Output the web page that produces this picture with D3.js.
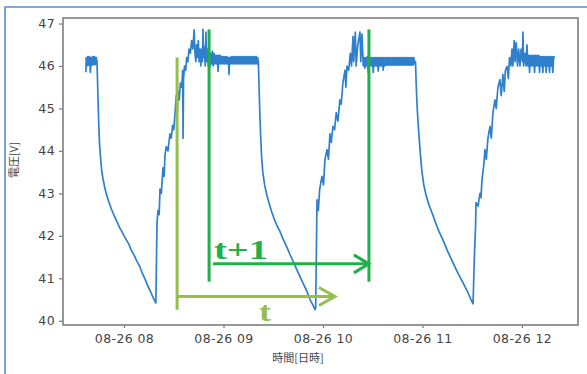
<!DOCTYPE html>
<html>
<head>
<meta charset="utf-8">
<script src="https://cdn.jsdelivr.net/npm/d3@7"></script>
<style>
body { margin: 0; background: #fff; }
</style>
</head>
<body>
<svg width="587" height="374"></svg>
<script>
// minutes after 07:00 on 08-26, voltage [V]
var startPlateau = [[37.0,45.85],[37.2,46.2],[37.7,46.0],[38.2,46.22],[38.7,46.02],[39.2,46.22],[39.7,45.85],[40.2,46.2],[40.7,46.02],[41.2,46.22],[41.7,46.03],[42.2,46.22],[42.7,46.03],[43.2,46.2],[43.7,46.1]]
var decay1 = [[44.2,45.4],[44.7,44.7],[45.2,44.2],[45.8,43.85],[46.5,43.55],[47.3,43.35],[48.3,43.15],[49.6,42.95],[51.0,42.78],[52.5,42.62],[54.0,42.48],[55.8,42.33],[57.5,42.18],[59.0,42.08],[60.0,42.0],[61.5,41.9],[63.0,41.8],[64.5,41.65],[66.0,41.55],[67.5,41.42],[69.6,41.27],[71.0,41.12],[72.5,41.0],[74.0,40.85],[75.2,40.75],[76.3,40.66],[77.5,40.55],[78.7,40.45]]
var rise1 = [[79.2,40.42],[79.6,41.5],[79.9,42.3],[80.5,42.6],[81.2,42.5],[81.7,43.1],[82.5,43.0],[83.5,43.6],[84.2,43.4],[84.7,43.9],[85.5,44.1],[86.5,44.0],[87.7,44.4],[88.5,44.3],[89.3,44.6],[90.0,44.5],[90.8,44.9],[91.5,45.3],[92.0,44.8],[92.6,45.4],[93.3,45.2],[94.0,45.6],[94.8,45.5],[95.4,45.9],[95.6,44.3],[95.9,45.7],[96.5,46.0],[97.2,45.9],[97.8,46.2],[98.5,46.1],[99.2,46.4],[100,46.3],[100.8,46.6],[101.5,46.4],[102.3,46.85],[102.8,46.3]]
var plateau1 = [[103.3,46.1],[103.8,46.5],[104.3,46.2],[104.8,46.6],[105.3,46.1],[105.8,46.4],[106.3,46.0],[106.8,46.4],[107.3,46.1],[107.6,46.86],[108.0,46.2],[108.5,46.45],[109.0,46.0],[109.4,46.8],[109.8,46.1],[110.3,46.4],[110.8,46.0],[111.3,46.3],[111.8,46.0],[112.3,46.3],[112.8,46.05],[113.3,46.35],[113.8,46.0],[114.3,46.3],[114.8,46.05],[115.3,46.25],[115.8,46.05],[116.3,46.25],[116.7,45.87],[117.1,46.25],[117.6,46.05],[118.1,46.25],[118.6,46.05],[119.1,46.22],[119.6,46.05],[120.1,46.22],[120.6,46.05],[121.1,46.22],[121.6,46.05],[122.1,46.22],[122.6,46.05],[123.0,46.2],[123.3,45.8],[123.7,46.2],[124.2,46.05],[124.7,46.22],[125.2,46.05],[125.7,46.22],[126.2,46.05],[126.7,46.22],[127.2,46.05],[127.7,46.22],[128.2,46.05],[128.7,46.22],[129.2,46.05],[129.7,46.22],[130.2,46.05],[130.7,46.22],[131.2,46.05],[131.7,46.22],[132.2,46.05],[132.7,46.22],[133.2,46.05],[133.7,46.22],[134.2,46.05],[134.7,46.22],[135.2,46.05],[135.7,46.22],[136.2,46.05],[136.7,46.22],[137.2,46.05],[137.7,46.22],[138.2,46.05],[138.7,46.22],[139.2,46.05],[139.7,46.22],[140.2,46.05],[140.6,46.2]]
var decay2 = [[141.0,46.1],[141.4,45.6],[141.9,44.9],[142.4,44.35],[143.0,43.85],[143.7,43.5],[144.8,43.2],[146.2,42.95],[147.7,42.74],[149.2,42.55],[151.0,42.35],[152.5,42.22],[154.1,42.1],[156.0,41.92],[158.0,41.75],[160.1,41.56],[162.0,41.4],[164.0,41.22],[166.1,41.04],[168.0,40.88],[170.0,40.72],[172.2,40.5],[173.8,40.38],[175.2,40.26]]
var rise2 = [[175.6,40.3],[176.0,41.6],[176.4,42.85],[177.2,42.6],[178.0,43.1],[179.4,43.4],[180.3,43.2],[181.2,43.8],[182.4,44.03],[183.3,43.8],[184.2,44.4],[185.0,44.2],[186.0,44.58],[187.0,44.5],[188.0,44.9],[189.0,44.7],[190.2,45.2],[191.0,45.1],[192.0,45.6],[193.3,45.9],[193.8,45.5],[194.5,46.0],[195.5,45.9],[196.5,46.3],[197.2,46.0],[198.1,46.7],[198.5,46.1],[199.5,46.8],[200.0,46.0],[201.0,46.5],[202.3,46.8],[202.8,46.1],[203.5,46.75],[204.3,46.0]]
var plateau2 = [[204.8,46.2],[205.3,45.95],[205.8,46.2],[206.3,46.0],[206.8,46.22],[207.3,45.85],[207.8,46.2],[208.3,46.0],[208.8,46.2],[209.3,46.0],[209.8,46.2],[210.3,45.85],[210.8,46.2],[211.3,46.0],[211.8,46.2],[212.3,46.0],[212.8,46.2],[213.3,45.88],[213.8,46.2],[214.3,46.0],[214.8,46.2],[215.3,46.0],[215.8,46.2],[216.3,45.9],[216.8,46.2],[217.3,46.0],[217.8,46.2],[218.3,46.02],[218.8,46.2],[219.3,46.02],[219.8,46.2],[220.3,46.02],[220.8,46.2],[221.3,46.02],[221.8,46.2],[222.3,46.02],[222.8,46.2],[223.3,46.02],[223.8,46.2],[224.3,46.02],[224.8,46.2],[225.3,46.02],[225.8,46.2],[226.3,46.02],[226.8,46.2],[227.3,46.02],[227.8,46.2],[228.3,46.02],[228.8,46.2],[229.3,46.02],[229.8,46.2],[230.3,46.02],[230.8,46.2],[231.3,46.02],[231.8,46.2],[232.3,46.02],[232.8,46.2],[233.3,46.02],[233.8,46.2],[234.3,46.02],[234.8,46.2],[235.3,46.05]]
var decay3 = [[235.8,46.1],[236.2,45.6],[236.7,45.1],[237.3,44.7],[238.0,44.3],[238.8,43.9],[239.7,43.5],[240.8,43.2],[242.2,42.95],[243.8,42.74],[245.7,42.55],[248.0,42.3],[250.0,42.1],[252.4,41.9],[255.0,41.65],[258.4,41.37],[261.0,41.15],[264.4,40.9],[267.0,40.7],[269.8,40.45]]
var rise3 = [[270.5,40.4],[271.3,41.5],[272.0,42.2],[272.3,42.78],[273.5,42.7],[274.7,43.0],[275.3,42.9],[275.9,43.33],[276.8,43.6],[277.7,44.03],[278.5,43.8],[279.5,44.3],[280.7,44.58],[281.5,44.3],[282.5,44.9],[283.7,45.2],[284.5,45.0],[285.5,45.5],[286.7,45.68],[287.5,45.3],[288.5,45.8],[289.3,45.4],[290.0,45.9],[291.0,45.99],[291.8,45.7],[292.5,46.2],[293.3,46.0],[294.0,46.4],[294.5,46.0],[295.3,46.6],[295.8,46.1],[296.5,46.55],[297.3,46.0],[298.0,46.4],[298.8,46.0],[299.5,46.4],[300.3,46.1],[300.6,46.8],[301.0,46.0],[301.8,46.3],[302.5,46.0],[303,46.5]]
var plateau3 = [[303.6,46.0],[304.1,46.25],[304.6,45.85],[305.1,46.25],[305.6,46.0],[306.1,46.25],[306.6,46.0],[307.1,46.25],[307.6,45.85],[308.1,46.25],[308.6,46.0],[309.1,46.25],[309.6,46.0],[310.1,46.25],[310.6,45.85],[311.1,46.22],[311.6,46.0],[312.1,46.22],[312.6,45.85],[313.1,46.22],[313.6,46.0],[314.1,46.22],[314.6,45.85],[315.1,46.22],[315.6,46.0],[316.1,46.22],[316.6,45.85],[317.1,46.22],[317.6,46.0],[318.1,46.22],[318.6,45.85],[319.1,46.22],[319.9,46.2]]

var hourTicks = [8, 9, 10, 11, 12]
var voltTicks = [40, 41, 42, 43, 44, 45, 46, 47]

// annotations: [minute, volts]
var tLine = {x: 92.0, y0: 46.2, y1: 40.26, arrowY: 40.57, arrowEnd: 187.2, label: "t", labelX: 145}
var t1Lines = {x0: 111.3, x1: 207.7, y0: 46.86, y1: 40.92, arrowY: 41.34, label: "t+1"}

var series = [].concat(startPlateau, decay1, rise1, plateau1, decay2, rise2, plateau2, decay3, rise3, plateau3)

function toDate(m) { return new Date(2023, 7, 26, 7, 0, m * 60) }

var xs = d3.scaleTime().domain([toDate(23.2), toDate(333.8)]).range([63, 578])
var ys = d3.scaleLinear().domain([39.9, 47.13]).range([325, 18])

var svg = d3.select("svg")

// outer frame of the pasted image
svg.append("path").attr("d", "M5,374 V7 H587")
  .attr("fill", "none").attr("stroke", "#5b8bd0").attr("stroke-width", 1.6)

var line = d3.line().x(d => xs(toDate(d[0]))).y(d => ys(d[1]))
svg.append("path").datum(series)
  .attr("d", line)
  .attr("fill", "none")
  .attr("stroke", "#2f80cc")
  .attr("stroke-width", 1.7)
  .attr("stroke-linejoin", "round")

// axes
var xAxis = svg.append("g").attr("transform", "translate(0,325)")
  .call(d3.axisBottom(xs).tickValues(hourTicks.map(h => toDate((h - 7) * 60)))
    .tickFormat(d3.timeFormat("%m-%d %H")).tickSize(3).tickPadding(6))
var yAxis = svg.append("g").attr("transform", "translate(63,0)")
  .call(d3.axisLeft(ys).tickValues(voltTicks).tickSize(4).tickPadding(4))

;[xAxis, yAxis].forEach(function(g) {
  g.select(".domain").remove()
  g.selectAll("line").attr("stroke", "#777").attr("stroke-width", 1.2)
  g.selectAll("text").attr("fill", "#444").attr("font-size", 12.5)
    .style("font-family", "'DejaVu Sans', sans-serif").attr("letter-spacing", 0.4)
})

svg.append("rect").attr("x", 63).attr("y", 18).attr("width", 515).attr("height", 307)
  .attr("fill", "none").attr("stroke", "#8c8c8c").attr("stroke-width", 1.8)

svg.append("text").attr("x", 298).attr("y", 362).attr("text-anchor", "middle")
  .attr("font-size", 11).attr("fill", "#444")
  .style("font-family", "'Noto Sans CJK JP', sans-serif").text("時間[日時]")
svg.append("text").attr("transform", "translate(18,160) rotate(-90)").attr("text-anchor", "middle")
  .attr("font-size", 11).attr("fill", "#444")
  .style("font-family", "'Noto Sans CJK JP', sans-serif").text("電圧[V]")

// annotation arrows
function arrow(color, xa, xb, yv, w, hx, hy) {
  var x1 = xs(toDate(xa)), x2 = xs(toDate(xb)), y = ys(yv)
  svg.append("line").attr("x1", x1).attr("x2", x2 - 1).attr("y1", y).attr("y2", y)
    .attr("stroke", color).attr("stroke-width", w)
  svg.append("path").attr("d", "M" + (x2 - hx) + "," + (y - hy) + " L" + x2 + "," + y + " L" + (x2 - hx) + "," + (y + hy))
    .attr("fill", "none").attr("stroke", color).attr("stroke-width", w).attr("stroke-linejoin", "miter")
}

var olive = "#93bf4a", green = "#1fb04a"
svg.append("line").attr("x1", xs(toDate(tLine.x))).attr("x2", xs(toDate(tLine.x)))
  .attr("y1", ys(tLine.y0)).attr("y2", ys(tLine.y1)).attr("stroke", olive).attr("stroke-width", 3)
arrow(olive, tLine.x, tLine.arrowEnd, tLine.arrowY, 3, 16, 9)
svg.append("text").attr("x", xs(toDate(tLine.labelX)) - 6).attr("y", 321)
  .style("font-family", "'Liberation Serif', serif").attr("font-weight", "bold").attr("font-size", 28)
  .attr("textLength", 12).attr("lengthAdjust", "spacingAndGlyphs")
  .attr("fill", olive).text(tLine.label)

;[t1Lines.x0, t1Lines.x1].forEach(function(m) {
  svg.append("line").attr("x1", xs(toDate(m))).attr("x2", xs(toDate(m)))
    .attr("y1", ys(t1Lines.y0)).attr("y2", ys(t1Lines.y1)).attr("stroke", green).attr("stroke-width", 3)
})
arrow(green, t1Lines.x0 + 2.4, t1Lines.x1, t1Lines.arrowY, 3, 15, 9)
svg.append("text").attr("x", 214).attr("y", 259)
  .style("font-family", "'Liberation Serif', serif").attr("font-weight", "bold").attr("font-size", 28)
  .attr("textLength", 54).attr("lengthAdjust", "spacingAndGlyphs")
  .attr("fill", green).text(t1Lines.label)
</script>
</body>
</html>
